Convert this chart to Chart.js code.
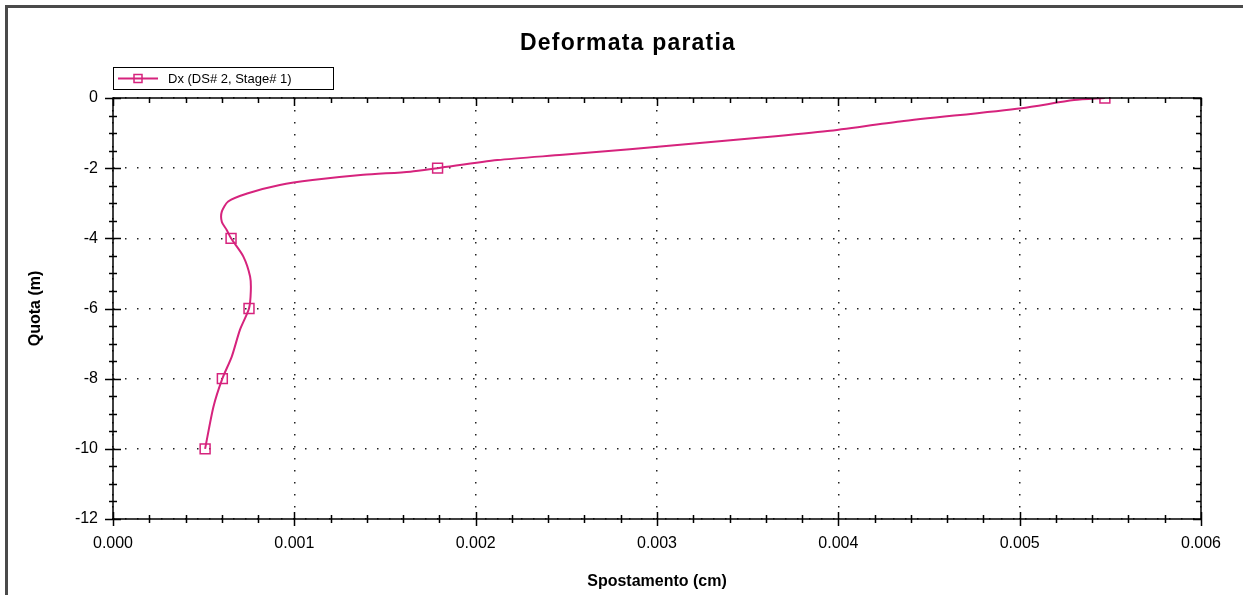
<!DOCTYPE html>
<html>
<head>
<meta charset="utf-8">
<script src="https://cdn.jsdelivr.net/npm/chart.js@4"></script>
<style>
  body { margin: 0; background: #fff; }
  canvas { display: block; }
</style>
</head>
<body>
<canvas id="chart" width="1243" height="595"></canvas>
<script>
// values
const quota = [0, -0.06, -0.29, -0.67, -0.94, -1.12, -1.29, -1.46, -1.62, -1.77, -2, -2.10, -2.19, -2.34, -2.48, -2.72, -2.95, -3.24, -3.53, -3.76, -4, -4.52, -5.09, -5.5, -6, -6.61, -7.37, -8, -8.8, -10];
const spostamento = [0.00547, 0.00530, 0.00501, 0.00434, 0.00394, 0.00359, 0.00322, 0.00285, 0.00248, 0.00212, 0.00179, 0.00164, 0.00138, 0.00110, 0.00092, 0.00074, 0.000635, 0.00060, 0.00060, 0.000627, 0.000651, 0.000719, 0.000756, 0.00076, 0.00075, 0.00070, 0.000655, 0.000603, 0.000554, 0.000508];
const markerQuote = [0, -2, -4, -6, -8, -10];

const chartTitle = 'Deformata paratia';
const xTitle = 'Spostamento (cm)';
const yTitle = 'Quota (m)';
const seriesLabel = 'Dx (DS# 2, Stage# 1)';

const lineColor = 'rgb(214,35,125)';

Chart.defaults.font.family = '"Liberation Sans", Arial, sans-serif';
Chart.defaults.color = '#000';

const points = quota.map((q, i) => ({ x: spostamento[i], y: q }));

// frame, minor ticks, legend box and titles
const decorations = {
  id: 'decorations',
  afterDraw(chart) {
    const { ctx, chartArea, scales } = chart;
    const { left, right, top, bottom } = chartArea;
    const x = scales.x, y = scales.y;
    ctx.save();

    // outer frame (top and left only visible)
    ctx.strokeStyle = '#4a4a4a';
    ctx.lineWidth = 3;
    ctx.beginPath();
    ctx.moveTo(6.5, 595);
    ctx.lineTo(6.5, 6.5);
    ctx.lineTo(1243, 6.5);
    ctx.stroke();

    // plot border
    ctx.strokeStyle = '#000';
    ctx.lineWidth = 1.5;
    ctx.strokeRect(left, top, right - left, bottom - top);

    // x ticks
    ctx.lineWidth = 1.5;
    ctx.beginPath();
    for (let i = 0; i <= 30; i++) {
      const px = Math.round(x.getPixelForValue(i * 0.0002)) + 0.5;
      const major = i % 5 === 0;
      const a = major ? 7 : 4;
      ctx.moveTo(px, bottom - a);
      ctx.lineTo(px, bottom + a);
      ctx.moveTo(px, top);
      ctx.lineTo(px, top + (major ? 8 : 5));
    }
    // y ticks
    for (let i = 0; i <= 24; i++) {
      const py = Math.round(y.getPixelForValue(-i * 0.5)) + 0.5;
      const major = i % 4 === 0;
      const a = major ? 8 : 4;
      ctx.moveTo(left - a, py);
      ctx.lineTo(left + a, py);
      ctx.moveTo(right, py);
      ctx.lineTo(right - (major ? 8 : 5), py);
    }
    ctx.stroke();

    // legend box
    ctx.lineWidth = 1;
    ctx.strokeRect(113.5, 67.5, 220, 22);
    ctx.strokeStyle = lineColor;
    ctx.lineWidth = 2;
    ctx.beginPath();
    ctx.moveTo(118, 78.5);
    ctx.lineTo(158, 78.5);
    ctx.stroke();
    ctx.lineWidth = 1.5;
    ctx.strokeRect(134, 74.5, 8, 8);
    ctx.fillStyle = '#000';
    ctx.font = '13px "Liberation Sans", Arial, sans-serif';
    ctx.textAlign = 'left';
    ctx.textBaseline = 'middle';
    ctx.fillText(seriesLabel, 168, 79);

    // main title
    ctx.font = 'bold 23px "Liberation Sans", Arial, sans-serif';
    ctx.textAlign = 'center';
    ctx.textBaseline = 'alphabetic';
    ctx.letterSpacing = '1.2px';
    ctx.fillText(chartTitle, 628, 50);
    ctx.letterSpacing = '0px';

    // axis titles
    ctx.font = 'bold 16px "Liberation Sans", Arial, sans-serif';
    ctx.textBaseline = 'middle';
    ctx.fillText(xTitle, (left + right) / 2, 582);
    ctx.translate(36, (top + bottom) / 2);
    ctx.rotate(-Math.PI / 2);
    ctx.fillText(yTitle, 0, 0);

    ctx.restore();
  }
};

new Chart(document.getElementById('chart'), {
  type: 'scatter',
  data: {
    datasets: [{
      label: seriesLabel,
      data: points,
      showLine: true,
      borderColor: lineColor,
      borderWidth: 2,
      tension: 0.25,
      pointStyle: 'rect',
      pointRadius: ctx => markerQuote.includes(ctx.raw.y) ? 7 : 0,
      pointBorderColor: lineColor,
      pointBorderWidth: 1.5,
      pointBackgroundColor: 'rgba(255,255,255,0)',
      pointHoverRadius: 0
    }]
  },
  options: {
    responsive: false,
    animation: false,
    devicePixelRatio: 1,
    layout: { padding: { left: 0, top: 98, right: 42, bottom: 0 } },
    plugins: {
      legend: { display: false },
      title: { display: false },
      tooltip: { enabled: false }
    },
    scales: {
      x: {
        type: 'linear',
        min: 0,
        max: 0.006,
        afterFit: s => { s.height = 76; },
        ticks: {
          stepSize: 0.001,
          padding: 15,
          font: { size: 16 },
          callback: v => v.toFixed(3)
        },
        grid: { color: '#222', lineWidth: 1.5, drawTicks: false },
        border: { display: false, dash: [1.5, 10.5] }
      },
      y: {
        min: -12,
        max: 0,
        afterFit: s => { s.width = 113; },
        ticks: {
          stepSize: 2,
          padding: 15,
          font: { size: 16 }
        },
        grid: { color: '#222', lineWidth: 1.5, drawTicks: false },
        border: { display: false, dash: [1.5, 10.5] }
      }
    }
  },
  plugins: [decorations]
});
</script>
</body>
</html>
